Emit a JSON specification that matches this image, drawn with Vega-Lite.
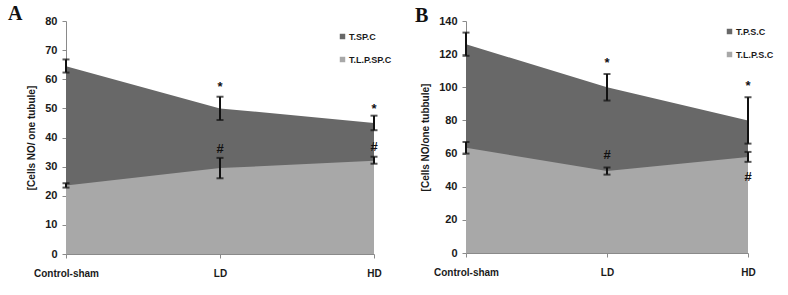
{
  "$schema": "https://vega.github.io/schema/vega-lite/v6.json",
  "padding": {"left": 8, "top": 4, "right": 5, "bottom": 5},
  "background": "white",
  "datasets": {
    "a": [
      {"group": "Control-sham", "series": "T.SP.C", "value": 64.5, "lo": 62.3, "hi": 66.8},
      {"group": "LD", "series": "T.SP.C", "value": 50, "lo": 46, "hi": 54},
      {"group": "HD", "series": "T.SP.C", "value": 45, "lo": 42.5, "hi": 47.5},
      {"group": "Control-sham", "series": "T.L.P.SP.C", "value": 23.5, "lo": 22.8, "hi": 24.3},
      {"group": "LD", "series": "T.L.P.SP.C", "value": 29.5, "lo": 26, "hi": 33},
      {"group": "HD", "series": "T.L.P.SP.C", "value": 32, "lo": 31, "hi": 33.4}
    ],
    "a_marks": [
      {"group": "LD", "label": "*", "y": 58.6},
      {"group": "HD", "label": "*", "y": 51.2},
      {"group": "LD", "label": "#", "y": 37.5},
      {"group": "HD", "label": "#", "y": 38.2}
    ],
    "b": [
      {"group": "Control-sham", "series": "T.P.S.C", "value": 126, "lo": 119, "hi": 133},
      {"group": "LD", "series": "T.P.S.C", "value": 100, "lo": 92, "hi": 108},
      {"group": "HD", "series": "T.P.S.C", "value": 80, "lo": 66, "hi": 94},
      {"group": "Control-sham", "series": "T.L.P.S.C", "value": 63.5, "lo": 60, "hi": 67},
      {"group": "LD", "series": "T.L.P.S.C", "value": 49.5, "lo": 47.3, "hi": 51.6},
      {"group": "HD", "series": "T.L.P.S.C", "value": 58, "lo": 55, "hi": 61}
    ],
    "b_marks": [
      {"group": "LD", "label": "*", "y": 117},
      {"group": "HD", "label": "*", "y": 103},
      {"group": "LD", "label": "#", "y": 61.5},
      {"group": "HD", "label": "#", "y": 48}
    ]
  },
  "config": {
    "view": {"stroke": null},
    "font": "Liberation Sans",
    "axis": {
      "grid": false,
      "domainColor": "#8a8a8a",
      "tickColor": "#8a8a8a",
      "labelColor": "#1a1a1a",
      "labelFont": "Liberation Sans",
      "labelFontWeight": "bold",
      "labelFontSize": 10,
      "labelOverlap": false,
      "labelBound": false,
      "titleFont": "Liberation Sans",
      "titleFontWeight": "bold",
      "titleFontSize": 10,
      "titleColor": "#1a1a1a",
      "tickSize": 4
    },
    "axisY": {"labelFontSize": 11},
    "legend": {
      "symbolType": "square",
      "symbolSize": 30,
      "symbolStrokeWidth": 0,
      "labelFont": "Liberation Sans",
      "labelFontWeight": "bold",
      "labelFontSize": 9,
      "labelColor": "#1a1a1a",
      "rowPadding": 13,
      "labelOffset": 2,
      "padding": 0
    },
    "title": {"font": "Liberation Serif", "fontWeight": "bold", "fontSize": 20, "color": "#111"}
  },
  "spacing": 23,
  "resolve": {"scale": {"color": "independent", "y": "independent", "x": "independent"}, "legend": {"color": "independent"}},
  "hconcat": [
    {
      "width": 308,
      "height": 233,
      "title": {"text": "A", "anchor": "start", "frame": "group", "dx": -58, "dy": 9, "offset": 0},
      "encoding": {
        "x": {"field": "group", "type": "ordinal", "sort": ["Control-sham", "LD", "HD"], "scale": {"type": "point", "padding": 0}, "axis": {"title": null, "labelAngle": 0, "labelPadding": 10}}
      },
      "layer": [
        {
          "data": {"name": "a"},
          "transform": [{"filter": "datum.series === 'T.SP.C'"}],
          "mark": {"type": "area", "opacity": 1},
          "encoding": {
            "y": {"field": "value", "type": "quantitative", "stack": null, "scale": {"domain": [0, 80]}, "axis": {"title": "[Cells NO/ one tubule]", "values": [0, 10, 20, 30, 40, 50, 60, 70, 80], "labelPadding": 5, "titlePadding": 8}},
            "color": {"field": "series", "type": "nominal", "scale": {"domain": ["T.SP.C", "T.L.P.SP.C"], "range": ["#686868", "#a8a8a8"]}, "legend": {"title": null, "orient": "none", "legendX": 272, "legendY": 11}}
          }
        },
        {
          "data": {"name": "a"},
          "transform": [{"filter": "datum.series === 'T.L.P.SP.C'"}],
          "mark": {"type": "area", "opacity": 1},
          "encoding": {
            "y": {"field": "value", "type": "quantitative", "stack": null, "axis": {"title": "[Cells NO/ one tubule]", "values": [0, 10, 20, 30, 40, 50, 60, 70, 80], "labelPadding": 5, "titlePadding": 8}},
            "color": {"field": "series", "type": "nominal"}
          }
        },
        {
          "data": {"name": "a"},
          "mark": {"type": "rule", "color": "#111", "strokeWidth": 2},
          "encoding": {
            "y": {"field": "lo", "type": "quantitative", "axis": {"title": "[Cells NO/ one tubule]", "values": [0, 10, 20, 30, 40, 50, 60, 70, 80], "labelPadding": 5, "titlePadding": 8}},
            "y2": {"field": "hi"}
          }
        },
        {
          "data": {"name": "a"},
          "mark": {"type": "tick", "orient": "horizontal", "color": "#111", "size": 7, "thickness": 2},
          "encoding": {
            "y": {"field": "lo", "type": "quantitative", "axis": {"title": "[Cells NO/ one tubule]", "values": [0, 10, 20, 30, 40, 50, 60, 70, 80], "labelPadding": 5, "titlePadding": 8}}
          }
        },
        {
          "data": {"name": "a"},
          "mark": {"type": "tick", "orient": "horizontal", "color": "#111", "size": 7, "thickness": 2},
          "encoding": {
            "y": {"field": "hi", "type": "quantitative", "axis": {"title": "[Cells NO/ one tubule]", "values": [0, 10, 20, 30, 40, 50, 60, 70, 80], "labelPadding": 5, "titlePadding": 8}}
          }
        },
        {
          "data": {"name": "a_marks"},
          "mark": {"type": "text", "font": "Liberation Sans", "fontWeight": "bold", "fontSize": 13, "color": "#111", "baseline": "middle", "dy": 4},
          "encoding": {
            "y": {"field": "y", "type": "quantitative", "axis": {"title": "[Cells NO/ one tubule]", "values": [0, 10, 20, 30, 40, 50, 60, 70, 80], "labelPadding": 5, "titlePadding": 8}},
            "text": {"field": "label"}
          }
        }
      ]
    },
    {
      "width": 282,
      "height": 232,
      "title": {"text": "B", "anchor": "start", "frame": "group", "dx": -51, "dy": 11, "offset": 0},
      "encoding": {
        "x": {"field": "group", "type": "ordinal", "sort": ["Control-sham", "LD", "HD"], "scale": {"type": "point", "padding": 0}, "axis": {"title": null, "labelAngle": 0, "labelPadding": 10}}
      },
      "layer": [
        {
          "data": {"name": "b"},
          "transform": [{"filter": "datum.series === 'T.P.S.C'"}],
          "mark": {"type": "area", "opacity": 1},
          "encoding": {
            "y": {"field": "value", "type": "quantitative", "stack": null, "scale": {"domain": [0, 140]}, "axis": {"title": "[Cells NO/one tubbule]", "values": [0, 20, 40, 60, 80, 100, 120, 140], "labelPadding": 5, "titlePadding": 8}},
            "color": {"field": "series", "type": "nominal", "scale": {"domain": ["T.P.S.C", "T.L.P.S.C"], "range": ["#686868", "#a8a8a8"]}, "legend": {"title": null, "orient": "none", "legendX": 259, "legendY": 6}}
          }
        },
        {
          "data": {"name": "b"},
          "transform": [{"filter": "datum.series === 'T.L.P.S.C'"}],
          "mark": {"type": "area", "opacity": 1},
          "encoding": {
            "y": {"field": "value", "type": "quantitative", "stack": null, "axis": {"title": "[Cells NO/one tubbule]", "values": [0, 20, 40, 60, 80, 100, 120, 140], "labelPadding": 5, "titlePadding": 8}},
            "color": {"field": "series", "type": "nominal"}
          }
        },
        {
          "data": {"name": "b"},
          "mark": {"type": "rule", "color": "#111", "strokeWidth": 2},
          "encoding": {
            "y": {"field": "lo", "type": "quantitative", "axis": {"title": "[Cells NO/one tubbule]", "values": [0, 20, 40, 60, 80, 100, 120, 140], "labelPadding": 5, "titlePadding": 8}},
            "y2": {"field": "hi"}
          }
        },
        {
          "data": {"name": "b"},
          "mark": {"type": "tick", "orient": "horizontal", "color": "#111", "size": 7, "thickness": 2},
          "encoding": {
            "y": {"field": "lo", "type": "quantitative", "axis": {"title": "[Cells NO/one tubbule]", "values": [0, 20, 40, 60, 80, 100, 120, 140], "labelPadding": 5, "titlePadding": 8}}
          }
        },
        {
          "data": {"name": "b"},
          "mark": {"type": "tick", "orient": "horizontal", "color": "#111", "size": 7, "thickness": 2},
          "encoding": {
            "y": {"field": "hi", "type": "quantitative", "axis": {"title": "[Cells NO/one tubbule]", "values": [0, 20, 40, 60, 80, 100, 120, 140], "labelPadding": 5, "titlePadding": 8}}
          }
        },
        {
          "data": {"name": "b_marks"},
          "mark": {"type": "text", "font": "Liberation Sans", "fontWeight": "bold", "fontSize": 13, "color": "#111", "baseline": "middle", "dy": 4},
          "encoding": {
            "y": {"field": "y", "type": "quantitative", "axis": {"title": "[Cells NO/one tubbule]", "values": [0, 20, 40, 60, 80, 100, 120, 140], "labelPadding": 5, "titlePadding": 8}},
            "text": {"field": "label"}
          }
        }
      ]
    }
  ]
}
